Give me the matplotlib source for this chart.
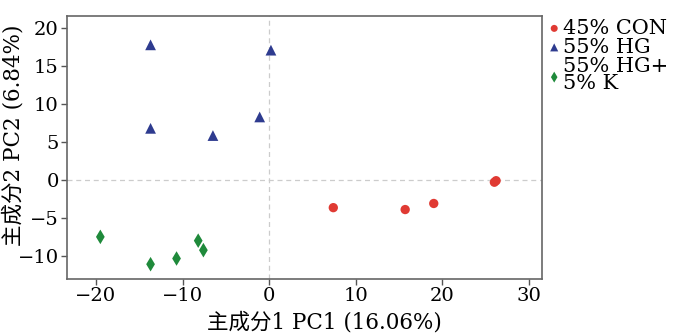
import matplotlib
matplotlib.use("Agg")
import matplotlib.pyplot as plt

plt.rcParams['font.family'] = ['DejaVu Serif', 'Noto Sans CJK SC']
plt.rcParams['axes.unicode_minus'] = True

groups = ["45% CON", "55% HG", "55% HG+\n5% K"]
con_x = [7.4, 15.7, 19.0, 26.0, 26.2]
con_y = [-3.65, -3.9, -3.1, -0.3, -0.1]
hg_x = [-13.7, 0.2, -13.7, -6.5, -1.1]
hg_y = [17.8, 17.1, 6.8, 5.85, 8.3]
hgk_x = [-19.5, -13.7, -10.7, -8.2, -7.6]
hgk_y = [-7.5, -11.1, -10.35, -8.0, -9.25]
xticks = [-20, -10, 0, 10, 20, 30]
yticks = [-10, -5, 0, 5, 10, 15, 20]

fig = plt.figure(figsize=(7, 3.35), dpi=100)
ax = fig.add_axes([67/700, 1-279/335, (542-67)/700, (279-16)/335])

ax.axhline(0, color='#cccccc', ls=(0, (4, 3)), lw=0.9, zorder=1)
ax.axvline(0, color='#cccccc', ls=(0, (4, 3)), lw=0.9, zorder=1)

ax.scatter(con_x, con_y, marker='o', s=45, color='#e03a33', label=groups[0], zorder=3, edgecolors='none')
ax.scatter(hg_x, hg_y, marker='^', s=60, color='#2e3b8f', label=groups[1], zorder=3, edgecolors='none')
ax.scatter(hgk_x, hgk_y, marker='d', s=55, color='#1f8a3b', label=groups[2], zorder=3, edgecolors='none')

ax.set_xlim(-23.35, 31.5)
ax.set_ylim(-13.05, 21.6)
ax.set_xticks(xticks)
ax.set_yticks(yticks)
ax.tick_params(labelsize=14, length=4, color='#555555', width=1, pad=2)
for s in ax.spines.values():
    s.set_color('#666666')
    s.set_linewidth(1.2)

ax.set_xlabel('主成分1 PC1 (16.06%)', fontsize=15.5)
ax.set_ylabel('主成分2 PC2 (6.84%)', fontsize=15.5)
ax.xaxis.set_label_coords(0.542, -0.125)
ax.yaxis.set_label_coords(-0.09, 0.545)

leg = ax.legend(loc='upper left', bbox_to_anchor=(0.995, 1.005), frameon=False,
                fontsize=15, handletextpad=-0.1, handlelength=1.0,
                labelspacing=0.0, borderaxespad=0.0, markerscale=0.75,
                borderpad=0.2)
for t in leg.get_texts():
    t.set_linespacing(0.9)

fig.savefig('out.png', dpi=100)
